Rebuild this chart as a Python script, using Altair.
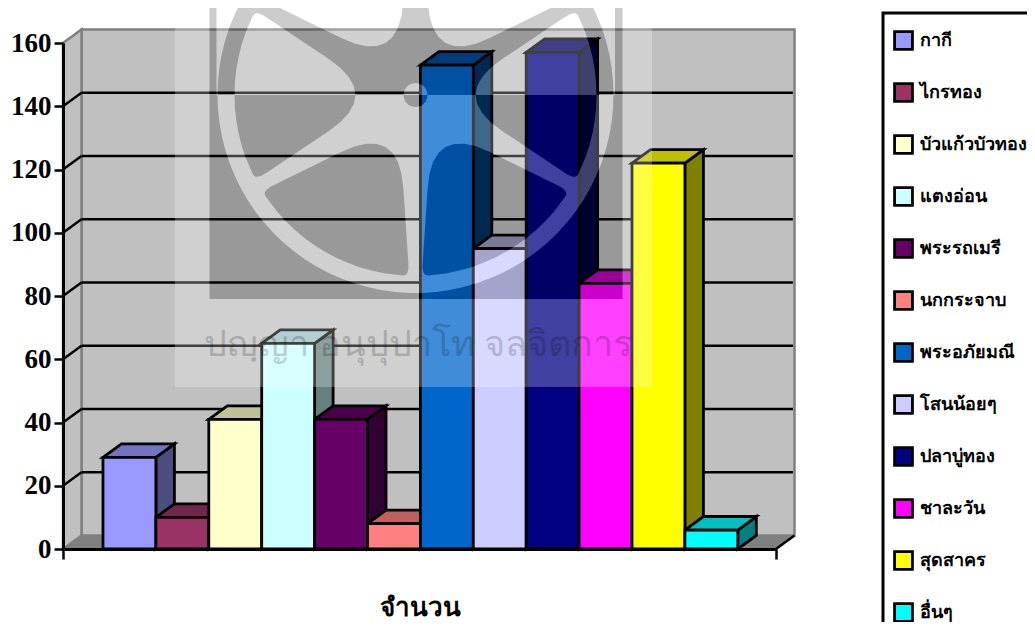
import math
import altair as alt
import pandas as pd

# ---- chart values
names = ["กากี", "ไกรทอง", "บัวแก้วบัวทอง", "แตงอ่อน", "พระรถเมรี", "นกกระจาบ",
         "พระอภัยมณี", "โสนน้อยๆ", "ปลาบู่ทอง", "ชาละวัน", "สุดสาคร", "อื่นๆ"]
values = [29, 10, 41, 65, 41, 8, 153, 95, 157, 84, 122, 6]
colors = ["#9999FF", "#993366", "#FFFFCC", "#CCFFFF", "#660066", "#FF8080",
          "#0066CC", "#CCCCFF", "#000080", "#FF00FF", "#FFFF00", "#00FFFF"]
tick_values = [0, 20, 40, 60, 80, 100, 120, 140, 160]
axis_title = "จำนวน"
watermark_text = "ปญฺญา อนุปุปาโท จลจิตการ"

SERIF = "Liberation Serif"
XMIN, XMAX = -0.756, 12.722       # floor ends, in bar widths
DX, DY = 0.35, 4.27               # 3-D depth, in bar widths and value units
EDGE = 2.8


def shade(hex_color, k):
    r, g, b = (int(hex_color[i:i + 2], 16) for i in (1, 3, 5))
    return "#%02X%02X%02X" % (round(r * k), round(g * k), round(b * k))


xs = alt.Scale(domain=[XMIN, XMAX], nice=False, zero=False)
ys = alt.Scale(domain=[0, 160], nice=False, zero=False)
axis_x = alt.Axis(values=[XMIN, XMAX], labels=False, domainColor="black", domainWidth=3,
                  tickColor="black", tickWidth=2.5, tickSize=10, grid=False, title=axis_title,
                  titleFont=SERIF, titleFontSize=26, titleFontWeight="bold", titleColor="black",
                  titlePadding=34, zindex=1)
axis_y = alt.Axis(values=tick_values, domainColor="black", domainWidth=3, tickColor="black",
                  tickWidth=2.5, tickSize=9, grid=False, title=None, labelFont=SERIF, labelFontSize=27,
                  labelFontWeight="bold", labelColor="black", labelPadding=3, zindex=1, format="d")
X = alt.X("x:Q", scale=xs, axis=axis_x)
Y = alt.Y("y:Q", scale=ys, axis=axis_y, stack=None)


def face(xv, yv, y2v, **mark):
    return alt.Chart(pd.DataFrame(dict(x=xv, y=yv, y2=y2v))).mark_area(**mark).encode(x=X, y=Y, y2="y2:Q")


# ---- walls
back = alt.Chart(pd.DataFrame([dict(x=XMIN + DX, x2=XMAX + DX, y=DY, y2=160 + DY)])).mark_rect(
    fill="#C0C0C0", stroke="#808080", strokeWidth=2.5
).encode(x=X, x2="x2:Q", y=Y, y2="y2:Q")
left_wall = face([XMIN, XMIN + DX], [160, 160 + DY], [0, DY], fill="#C0C0C0", stroke="#808080", strokeWidth=2.5)
floor = face([XMIN, XMIN + DX, XMAX, XMAX + DX], [0, DY, DY, DY], [0, 0, 0, DY],
             fill="#808080", stroke="#808080", strokeWidth=1)

# ---- gridlines on the wall
grid_back = alt.Chart(pd.DataFrame(dict(x=XMIN + DX, x2=XMAX + DX - 0.03,
                                        y=[t + DY for t in tick_values[1:-1]]))).mark_rule(
    color="black", strokeWidth=2.4
).encode(x=X, x2="x2:Q", y=Y)

diag_rows = []
for t in tick_values[1:-1]:
    diag_rows += [dict(t=t, x=XMIN, y=t, o=0), dict(t=t, x=XMIN + DX, y=t + DY, o=1)]
diag_rows += [dict(t=-1, x=XMAX, y=0, o=0), dict(t=-1, x=XMAX + DX, y=DY, o=1)]
grid_diag = alt.Chart(pd.DataFrame(diag_rows)).mark_line(color="black", strokeWidth=2.4).encode(
    x=X, y=Y, detail="t:N", order="o:Q")

# ---- side and top faces of the bars, painted from left to right
faces = []
for i, (v, c) in enumerate(zip(values, colors)):
    faces.append(face([i + 1, i + 1 + DX], [v, v + DY], [0, DY],
                      fill=shade(c, 0.5), stroke="black", strokeWidth=EDGE))
    faces.append(face([i, i + DX, i + 1, i + 1 + DX], [v, v + DY, v + DY, v + DY], [v, v, v, v + DY],
                      fill=shade(c, 0.75), stroke="black", strokeWidth=EDGE))

# ---- front faces, carrying the legend
bars = pd.DataFrame(dict(name=names, value=values, x=range(12), x1=range(1, 13)))
front = alt.Chart(bars).mark_rect(stroke="black", strokeWidth=EDGE).encode(
    x=X, x2="x1:Q",
    y=alt.Y("value:Q", scale=ys, axis=axis_y), y2=alt.datum(0),
    color=alt.Color("name:N", sort=None, scale=alt.Scale(domain=names, range=colors), legend=alt.Legend(
        title=" ", titleFontSize=1, titlePadding=6, orient="none", legendX=820, legendY=-30, padding=10,
        strokeColor="black", fillColor="white", symbolType="square", symbolSize=320,
        symbolStrokeColor="black", symbolStrokeWidth=EDGE, symbolOpacity=1,
        labelFont=SERIF, labelFontSize=18, labelFontWeight="bold", labelColor="black",
        labelOffset=6, rowPadding=21, labelLimit=400, values=names)))

# ---- the translucent watermark above the chart (page pixels relative to the plot origin)
OX, OY = 63, 43
CX, CY = 415.5, 95
R_OUT, R_WEDGE, R_TIP = 198, 181, 33


def to_plot(pts):
    return [[round(x - OX, 2), round(y - OY, 2)] for x, y in pts]


def arc(r, a0, a1, step=4):
    n = max(2, int(abs(a1 - a0) / step))
    return [(CX + r * math.cos(math.radians(a0 + (a1 - a0) * k / n)),
             CY - r * math.sin(math.radians(a0 + (a1 - a0) * k / n))) for k in range(n + 1)]


def corner(p0, p, p1, d, n=8):
    def toward(a, b):
        L = math.dist(a, b)
        t = min(d / L, 0.5)
        return (a[0] + (b[0] - a[0]) * t, a[1] + (b[1] - a[1]) * t)
    s, e = toward(p, p0), toward(p, p1)
    return [((1 - t) ** 2 * s[0] + 2 * t * (1 - t) * p[0] + t * t * e[0],
             (1 - t) ** 2 * s[1] + 2 * t * (1 - t) * p[1] + t * t * e[1])
            for t in (k / n for k in range(n + 1))]


def wedge(a, half=28):
    tip = (CX + R_TIP * math.cos(math.radians(a)), CY - R_TIP * math.sin(math.radians(a)))
    out = arc(R_WEDGE, a - half, a + half)
    poly = corner(out[-1], tip, out[0], 65)
    poly += corner(tip, out[0], out[1], 13)[1:]
    poly += out[2:-2]
    poly += corner(out[-2], out[-1], tip, 13)
    return poly


def clip(poly, keep_upper):
    inside = (lambda p: p[1] <= CY) if keep_upper else (lambda p: p[1] >= CY)
    res = []
    for i, p in enumerate(poly):
        q = poly[(i + 1) % len(poly)]
        if inside(p):
            res.append(p)
        if inside(p) != inside(q):
            t = (CY - p[1]) / (q[1] - p[1])
            res.append((p[0] + (q[0] - p[0]) * t, CY))
    return res


def oriented(poly, positive):
    a = sum(poly[i][0] * poly[(i + 1) % len(poly)][1] - poly[(i + 1) % len(poly)][0] * poly[i][1]
            for i in range(len(poly)))
    poly = list(poly)
    if (a > 0) != positive:
        poly.reverse()
    return poly


def ring(poly, positive=True):
    p = to_plot(oriented(poly, positive))
    return p + [p[0]]


def box(x0, y0, x1, y1):
    return [(x0, y0), (x1, y0), (x1, y1), (x0, y1)]


wedges = [wedge(a) for a in (0, 60, 120, 180, 240, 300)]
hub = arc(12, 0, 360, 15)[:-1]
upper_holes = [h for h in (clip(w, True) for w in wedges + [hub]) if len(h) > 2]
lower_parts = [h for h in (clip(w, False) for w in wedges + [hub]) if len(h) > 2]
upper_disc = arc(R_OUT, 0, 180)
lower_disc = arc(R_OUT, 180, 360)
inner_box = box(209.5, -110, 622.5, 299)

dark_polygons = [
    [ring(box(209.5, -110, 216.5, CY))],
    [ring(box(615, -110, 622.5, CY))],
    [ring(upper_disc)] + [ring(h, False) for h in upper_holes],
    [ring(box(209.5, CY, 622.5, 299)), ring(lower_disc, False)],
] + [[ring(p)] for p in lower_parts]

# the whitening veil covers exactly what the dark reel does not
light_polygons = [
    [ring(box(175, -110, 652, 387)), ring(inner_box, False)],
    [ring(box(216.5, -110, 615, CY)), ring(upper_disc, False)],
    [ring(lower_disc)] + [ring(h, False) for h in lower_parts],
] + [[ring(p)] for p in upper_holes]


def sheet(polys, colour, alpha):
    return alt.Chart(alt.InlineData(values=[dict(
        type="Feature", properties={},
        geometry=dict(type="MultiPolygon", coordinates=polys))],
        format=alt.DataFormat(type="json"))).mark_geoshape(
        fill=colour, fillOpacity=alpha, stroke=None, clip=False
    ).project(type="identity", scale=1, translate=[0, 0])


veil = sheet(light_polygons, "white", 0.25)
reel = sheet(dark_polygons, "black", 0.2)

motto = alt.Chart(pd.DataFrame(dict(t=[watermark_text]))).mark_text(
    font="Noto Sans", fontSize=36, color="black", opacity=0.18, align="center", baseline="alphabetic"
).encode(text="t:N", x=alt.value(418 - OX), y=alt.value(356 - OY))

chart = alt.layer(back, left_wall, floor, grid_back, grid_diag, *faces, front, veil, reel, motto).properties(
    width=713, height=506,
    padding={"left": 55, "top": 35, "right": 251, "bottom": 73},
    autosize=alt.AutoSizeParams(type="none"),
    background="white",
).resolve_scale(x="shared", y="shared").configure_view(stroke=None).configure_legend(strokeWidth=3)

chart.save("out.html", embed_options={"renderer": "svg", "actions": False})
